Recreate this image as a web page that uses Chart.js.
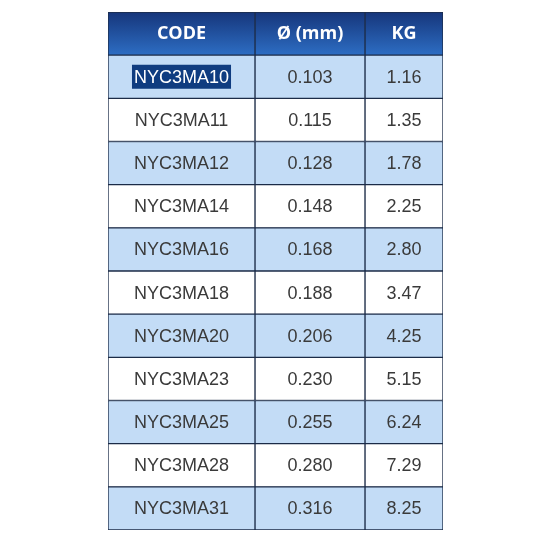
<!DOCTYPE html>
<html><head><meta charset="utf-8">
<script src="https://cdn.jsdelivr.net/npm/chart.js@4"></script>
<style>html,body{margin:0;padding:0;background:#fff}#c{display:block}</style>
</head><body>
<div style="width:550px;height:550px"><canvas id="c"></canvas></div>
<script>
const headers = ["CODE", "Ø (mm)", "KG"];
const codes = ["NYC3MA10","NYC3MA11","NYC3MA12","NYC3MA14","NYC3MA16","NYC3MA18","NYC3MA20","NYC3MA23","NYC3MA25","NYC3MA28","NYC3MA31"];
const diameters = ["0.103","0.115","0.128","0.148","0.168","0.188","0.206","0.230","0.255","0.280","0.316"];
const weights = ["1.16","1.35","1.78","2.25","2.80","3.47","4.25","5.15","6.24","7.29","8.25"];

const colW = [147, 110, 78];
const rows = ["header"].concat(codes);
const cols = [codes, diameters, weights];

function fillFor(ctx) {
  const i = ctx.dataIndex;
  const chart = ctx.chart;
  const area = chart.chartArea;
  if (!area) return '#fff';
  if (i === 0) {
    const y = chart.scales.y;
    const top = y.getPixelForValue(0) - 22, bot = top + 44;
    const g = chart.ctx.createLinearGradient(0, top, 0, bot);
    g.addColorStop(0, '#16357a'); g.addColorStop(1, '#2d6ec4');
    return g;
  }
  return (i % 2 === 1) ? '#c3dcf6' : '#ffffff';
}

const textPlugin = {
  id: 'cellText',
  afterDatasetsDraw(chart) {
    const c = chart.ctx;
    c.save();
    c.textAlign = 'center'; c.textBaseline = 'middle';
    chart.data.datasets.forEach((ds, di) => {
      const meta = chart.getDatasetMeta(di);
      meta.data.forEach((bar, i) => {
        const cx = (bar.x + bar.base) / 2, cy = bar.y;
        let txt;
        if (i === 0) {
          txt = headers[di];
          c.font = 'bold 18px "Open Sans", "DejaVu Sans", sans-serif';
          c.fillStyle = '#ffffff';
          c.fillText(txt, cx, cy);
        } else {
          txt = cols[di][i - 1];
          c.font = '18px "Liberation Sans", "DejaVu Sans", sans-serif';
          if (di === 0 && i === 1) {
            const w = c.measureText(txt).width;
            c.fillStyle = '#0f3c80';
            c.fillRect(cx - w / 2 - 2, cy - 12, w + 4, 24);
            c.fillStyle = '#ffffff';
          } else c.fillStyle = '#3a3a3a';
          c.fillText(txt, cx, cy + 1);
        }
      });
    });
    c.restore();
  }
};

new Chart(document.getElementById('c'), {
  type: 'bar',
  data: {
    labels: rows,
    datasets: colW.map(w => ({
      data: rows.map(() => w),
      backgroundColor: fillFor,
      borderColor: '#1c2c48',
      borderWidth: 1,
      borderSkipped: false,
      barPercentage: 1, categoryPercentage: 1
    }))
  },
  options: {
    indexAxis: 'y', responsive: true, maintainAspectRatio: false, animation: false,
    layout: { padding: { left: 108, right: 107, top: 12, bottom: 20 } },
    plugins: { legend: { display: false }, tooltip: { enabled: false } },
    scales: {
      x: { stacked: true, display: false, min: 0, max: 335 },
      y: { stacked: true, display: false }
    }
  },
  plugins: [textPlugin]
});
</script>
</body></html>
